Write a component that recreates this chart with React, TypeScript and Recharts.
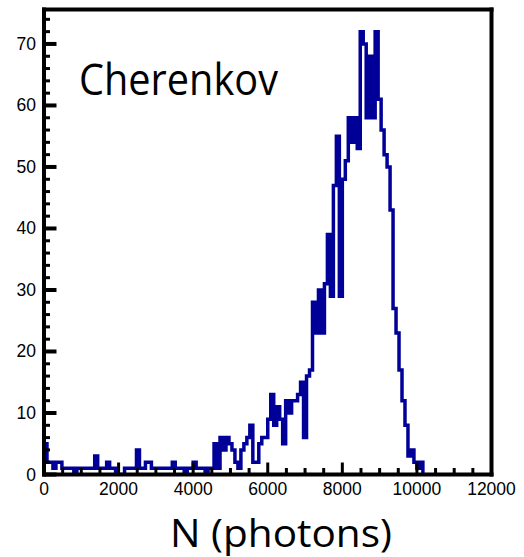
import React from 'react'
import { ComposedChart, Line, XAxis, YAxis } from 'recharts'

// histogram of photon counts, 80-photon bins starting at 0
const binWidth = 80
const counts = [
  5, 2, 2, 1, 2, 2, 1, 1, 1, 1, 0, 1, 1, 1, 1, 1, 1, 3, 1, 1,
  1, 2, 1, 1, 0, 0, 0, 1, 1, 1, 1, 4, 1, 1, 2, 2, 1, 1, 1, 1,
  1, 1, 1, 2, 1, 1, 1, 0, 1, 1, 2, 1, 1, 1, 0, 1, 1, 5, 1, 6,
  4, 6, 5, 4, 2, 1, 4, 5, 6, 8, 2, 2, 5, 6, 6, 9, 13, 8, 11, 9,
  5, 12, 10, 12, 12, 13, 15, 6, 16, 17, 28, 23, 30, 23, 31, 39, 29, 47, 55, 29,
  48, 51, 58, 54, 58, 53, 72, 70, 58, 68, 58, 72, 61, 56, 52, 50, 43, 27, 23, 17,
  12, 8, 3, 4, 2, 1, 2,
]

const xTicks = [0, 500, 1000, 1500, 2000, 2500, 3000, 3500, 4000, 4500, 5000, 5500, 6000,
  6500, 7000, 7500, 8000, 8500, 9000, 9500, 10000, 10500, 11000, 11500, 12000]
const yTicks = [0, 2, 4, 6, 8, 10, 12, 14, 16, 18, 20, 22, 24, 26, 28, 30, 32, 34, 36, 38,
  40, 42, 44, 46, 48, 50, 52, 54, 56, 58, 60, 62, 64, 66, 68, 70, 72, 74]

const histData = [
  { x: 0, y: 0 },
  ...counts.map((c, i) => ({ x: i * binWidth, y: c })),
  { x: counts.length * binWidth, y: 0 },
]

const labelFont = '"Liberation Sans", Arial, sans-serif'
const titleFont = '"Open Sans", "Noto Sans", sans-serif'

const XTick = (props: any) => {
  const { x, y, payload } = props
  const major = payload.value % 2000 === 0
  return (
    <g>
      <line x1={x} x2={x} y1={y} y2={y - (major ? 12 : 6.5)} stroke="#000" strokeWidth={3} />
      {major && (
        <text x={x} y={y + 20.5} textAnchor="middle" fontSize={17.5} fontFamily={labelFont} fill="#000">
          {payload.value}
        </text>
      )}
    </g>
  )
}

const YTick = (props: any) => {
  const { x, y, payload } = props
  const major = payload.value % 10 === 0
  return (
    <g>
      <line x1={x} x2={x + (major ? 12.5 : 6)} y1={y} y2={y} stroke="#000" strokeWidth={major ? 4 : 3} />
      {major && (
        <text x={x - 8} y={y + 6} textAnchor="end" fontSize={17.5} fontFamily={labelFont} fill="#000">
          {payload.value}
        </text>
      )}
    </g>
  )
}

const frame = { stroke: '#000', strokeWidth: 4, strokeLinecap: 'square' as const }

export default function App() {
  return (
    <div style={{ position: 'absolute', left: 0, top: 0, width: 524, height: 557, background: '#fff' }}>
      <ComposedChart
        width={524}
        height={557}
        data={histData}
        margin={{ top: 8.5, right: 31.5, bottom: 52.5, left: 4 }}
      >
        <XAxis
          xAxisId="b"
          dataKey="x"
          type="number"
          domain={[0, 12000]}
          ticks={xTicks}
          interval={0}
          height={30}
          tickSize={0}
          tickMargin={0}
          axisLine={frame}
          tickLine={false}
          tick={<XTick />}
        />
        <XAxis xAxisId="t" orientation="top" type="number" domain={[0, 12000]} ticks={[0, 12000]} height={1} axisLine={frame} tick={false} tickLine={false} />
        <YAxis
          yAxisId="l"
          type="number"
          domain={[0, 75.6]}
          ticks={yTicks}
          interval={0}
          width={40}
          tickSize={0}
          tickMargin={0}
          axisLine={frame}
          tickLine={false}
          tick={<YTick />}
          allowDataOverflow
        />
        <YAxis yAxisId="r" orientation="right" type="number" domain={[0, 75.6]} ticks={[0, 70]} width={1} axisLine={frame} tick={false} tickLine={false} />
        <Line
          xAxisId="b"
          yAxisId="l"
          dataKey="y"
          type="stepAfter"
          stroke="#000099"
          strokeWidth={3.5}
          dot={false}
          activeDot={false}
          isAnimationActive={false}
        />
      </ComposedChart>
      <svg width={524} height={557} style={{ position: 'absolute', left: 0, top: 0, pointerEvents: 'none' }}>
        <text x={79} y={95} fontSize={44} fontFamily={titleFont} fill="#000" textLength={199} lengthAdjust="spacingAndGlyphs">
          Cherenkov
        </text>
        <text x={170} y={547} fontSize={39} fontFamily={titleFont} fill="#000" textLength={222} lengthAdjust="spacingAndGlyphs">
          N (photons)
        </text>
      </svg>
    </div>
  )
}
